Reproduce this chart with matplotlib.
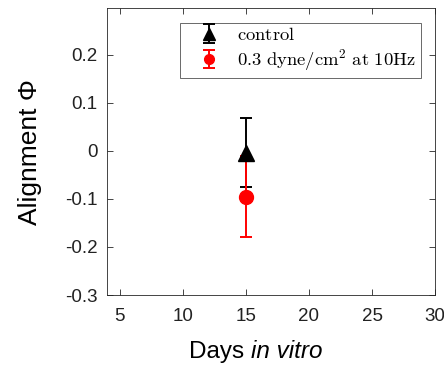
import matplotlib
matplotlib.use("Agg")
import matplotlib.pyplot as plt

# data
days = [15]
control_mean = [-0.004]
control_err = [0.072]
stim_mean = [-0.095]
stim_err = [0.085]

plt.rcParams['font.family'] = ['Liberation Sans', 'DejaVu Sans']
plt.rcParams['mathtext.fontset'] = 'cm'

fig = plt.figure(figsize=(4.44, 3.67), dpi=100)
ax = fig.add_axes([0.241, 0.196, 0.739, 0.782])

ax.errorbar(days, control_mean, yerr=control_err, fmt='^', color='k',
            markersize=11.5, capsize=4, elinewidth=1.4, capthick=1.4,
            label=r'$\mathrm{control}$')
ax.errorbar(days, stim_mean, yerr=stim_err, fmt='o', color='red',
            markersize=10, capsize=4, elinewidth=1.4, capthick=1.4,
            label=r'$\mathrm{0.3\ dyne/cm^2\ at\ 10Hz}$')

ax.set_xlim(4, 30)
ax.set_ylim(-0.3, 0.297)
ax.set_xticks([5, 10, 15, 20, 25, 30])
ax.set_yticks([-0.3, -0.2, -0.1, 0, 0.1, 0.2])
ax.set_yticklabels(['-0.3', '-0.2', '-0.1', '0', '0.1', '0.2'])

grey = '#262626'
for s in ax.spines.values():
    s.set_color(grey)
    s.set_linewidth(0.6)
ax.tick_params(direction='in', top=True, right=True, colors=grey,
               labelcolor='#222222', labelsize=13.5, length=4, width=0.6)
ax.tick_params(axis='y', pad=7)
ax.tick_params(axis='x', pad=9)

# x label: "Days" upright, "in vitro" italic
fig.text(0.565, 0.0245, 'Days ', fontsize=17.5, ha='right', va='baseline')
fig.text(0.565, 0.0245, 'in vitro', fontsize=17.5, ha='left', va='baseline',
         style='italic')
ax.set_ylabel('Alignment Φ', fontsize=19, labelpad=16)

leg = ax.legend(loc='upper right', fontsize=13.4, frameon=True, fancybox=False,
                edgecolor=grey, borderpad=0.25, handlelength=2.6,
                handletextpad=0.2, labelspacing=0.15, borderaxespad=0.78,
                markerscale=0.7)
leg.get_frame().set_linewidth(0.6)

plt.savefig("out.png", dpi=100)
